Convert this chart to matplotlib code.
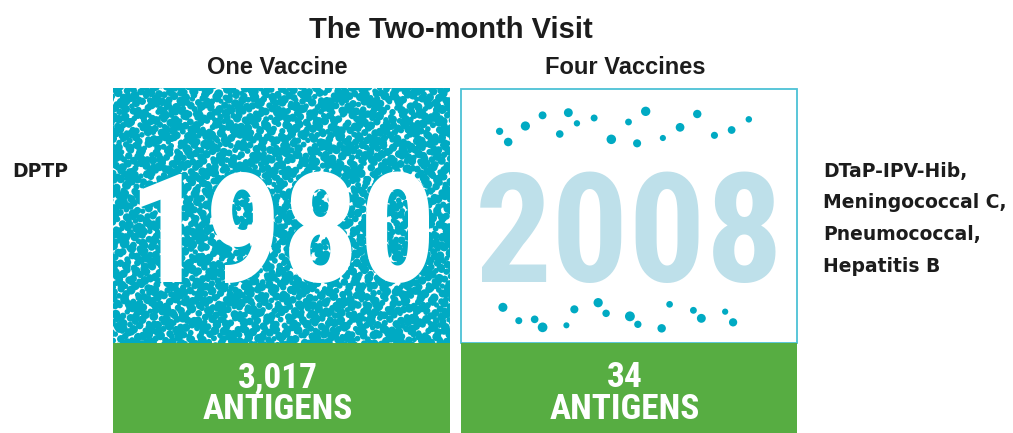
import numpy as np
import matplotlib.pyplot as plt
from matplotlib import font_manager
from matplotlib.font_manager import FontProperties
from matplotlib.patches import Rectangle

# chart content
title = "The Two-month Visit"
years = ["1980", "2008"]
headers = ["One Vaccine", "Four Vaccines"]
antigens = [3017, 34]
antigen_labels = ["3,017", "34"]
vaccines_1980 = ["DPTP"]
vaccines_2008 = ["DTaP-IPV-Hib,", "Meningococcal C,", "Pneumococcal,", "Hepatitis B"]
rows_2008 = [18, 16]   # how the 34 dots sit above / below the year

teal = "#00aac3"
pale = "#bee0ea"
green = "#57ad42"
border = "#4cc2d6"
dark = "#1c1c1c"


def find_condensed():
    # a bold narrow face if one is installed
    best = None
    for f in font_manager.fontManager.ttflist:
        nm = (f.name + " " + f.fname).lower()
        narrowish = ("narrow" in nm or "condensed" in nm
                     or f.stretch in ("condensed", "semi-condensed", "extra-condensed"))
        w = f.weight if isinstance(f.weight, int) else font_manager.weight_dict.get(f.weight, 400)
        if narrowish and 600 <= w <= 800 and "mono" not in nm and "italic" not in nm \
                and "oblique" not in nm and f.style == "normal":
            rank = 0 if "liberation" in nm else 1 if "roboto" in nm else 2
            if best is None or rank < best[0]:
                best = (rank, f.fname)
    return best[1] if best else None


installed = {f.name for f in font_manager.fontManager.ttflist}
head_font = "Liberation Sans" if "Liberation Sans" in installed else "DejaVu Sans"
cond = find_condensed()
if cond:
    year_fp = FontProperties(fname=cond, size=110)
    band_fp = FontProperties(fname=cond, size=25.5)
else:
    year_fp = FontProperties(family=[head_font, "DejaVu Sans"], weight="bold", size=93)
    band_fp = FontProperties(family=[head_font, "DejaVu Sans"], weight="bold", size=21)

fig = plt.figure(figsize=(10.13, 4.33), dpi=100)
ax = fig.add_axes([0, 0, 1, 1])
ax.set_xlim(0, 1013)
ax.set_ylim(433, 0)
ax.axis("off")

# panels (pixel coords)
panels = [(113, 450), (461, 797)]
top, mid, bot = 89, 343, 433


def halton(n, base, start=1):
    out = np.empty(n)
    for j, i in enumerate(range(start, start + n)):
        f, r = 1.0, 0.0
        while i > 0:
            f /= base
            r += f * (i % base)
            i //= base
        out[j] = r
    return out


def px_to_s(d):
    return (d * 0.72) ** 2


# 1980 panel - one dot per antigen
x0, x1 = panels[0]
n = antigens[0]
u, v, w = halton(n, 2), halton(n, 3), halton(n, 5)
xs = x0 - 4 + u * (x1 - x0 + 8)
ys = top - 4 + v * (mid - top + 8)
clip = Rectangle((x0, top - 1), x1 - x0, mid - top + 1, transform=ax.transData)
sc = ax.scatter(xs, ys, s=px_to_s(5.2 + 4.0 * w), c=teal, linewidths=0, zorder=2)
sc.set_clip_path(clip)
ax.text((x0 + x1) / 2, 282, years[0], fontproperties=year_fp,
        color="white", ha="center", va="baseline", zorder=3)

# 2008 panel
x0, x1 = panels[1]
ax.add_patch(Rectangle((x0, top), x1 - x0, mid - top, fill=False,
                       edgecolor=border, lw=1.3, zorder=1))
bands = [(491, 766, 110, 146), (491, 745, 302, 329)]
for k, (cnt, (bx0, bx1, by0, by1)) in enumerate(zip(rows_2008, bands)):
    st = 1 + 40 * k
    u, v, w = halton(cnt, 2, st), halton(cnt, 3, st), halton(cnt, 5, st)
    ax.scatter(bx0 + u * (bx1 - bx0), by0 + v * (by1 - by0),
               s=px_to_s(6 + 4 * w), c=teal, linewidths=0, zorder=2)
ax.text((x0 + x1) / 2, 282, years[1], fontproperties=year_fp,
        color=pale, ha="center", va="baseline", zorder=3)

# green antigen bands
for (x0, x1), lab in zip(panels, antigen_labels):
    ax.add_patch(Rectangle((x0, mid), x1 - x0, bot - mid, color=green, lw=0, zorder=1))
    cx = (x0 + x1) / 2 - 4
    ax.text(cx, 387, lab, fontproperties=band_fp, color="white", ha="center", va="baseline")
    ax.text(cx, 419, "ANTIGENS", fontproperties=band_fp, color="white",
            ha="center", va="baseline")

# titles
ax.text(451, 38, title, fontsize=21, fontweight="bold", family=[head_font, "DejaVu Sans"],
        color=dark, ha="center", va="baseline")
for (x0, x1), h in zip(panels, headers):
    ax.text((x0 + x1) / 2 - 4, 74, h, fontsize=17, fontweight="bold",
            family=[head_font, "DejaVu Sans"], color=dark, ha="center", va="baseline")

# vaccine names
ax.text(12, 177, "\n".join(vaccines_1980), fontsize=13.5, fontweight="bold",
        color=dark, ha="left", va="baseline")
for i, line in enumerate(vaccines_2008):
    ax.text(823, 177 + i * 31.5, line, fontsize=13.5, fontweight="bold",
            color=dark, ha="left", va="baseline")

fig.savefig("out.png", dpi=100)
